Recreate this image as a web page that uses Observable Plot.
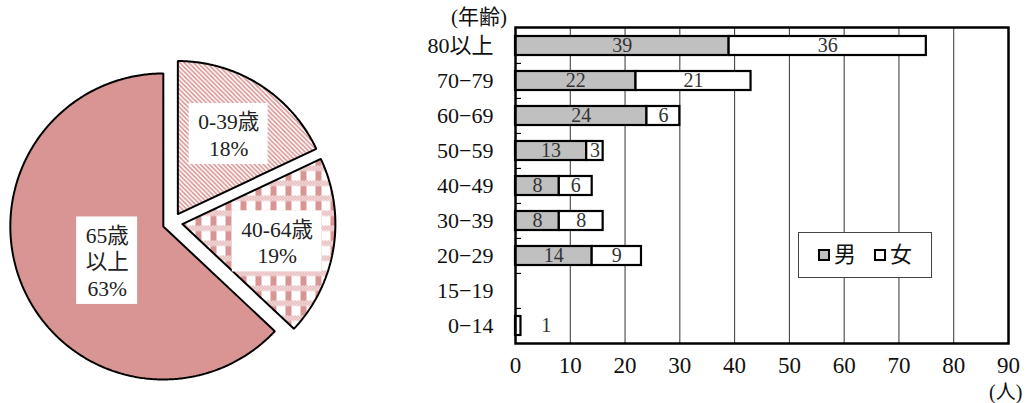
<!DOCTYPE html>
<html><head><meta charset="utf-8">
<script src="https://cdn.jsdelivr.net/npm/d3@7"></script>
<script src="https://cdn.jsdelivr.net/npm/@observablehq/plot@0.6"></script>
<style>
body{margin:0;background:#fff;}
#wrap{position:relative;width:1030px;height:403px;overflow:hidden;font-family:"Liberation Serif","Noto Sans CJK JP",serif;color:#111;}
.abs{position:absolute;white-space:nowrap;line-height:1;}
</style></head><body><div id="wrap"></div>
<script>
// ---- Pie data ----
const pieCategories = ["0-39歳", "40-64歳", "65歳以上"];
const piePercents = [18, 19, 63];
const pieLabelLines = [["0-39歳", "18%"], ["40-64歳", "19%"], ["65歳", "以上", "63%"]];
const pieFills = ["url(#stripe)", "url(#gingham)", "#d99594"];

// ---- Bar data ----
const ageGroups = ["80以上", "70−79", "60−69", "50−59", "40−49", "30−39", "20−29", "15−19", "0−14"];
const maleCounts = [39, 22, 24, 13, 8, 8, 14, 0, 0];
const femaleCounts = [36, 21, 6, 3, 6, 8, 9, 0, 1];
const sexes = ["男", "女"];
const sexFills = ["#c0c0c0", "#ffffff"];
const xTicks = [0, 10, 20, 30, 40, 50, 60, 70, 80, 90];

const FONT = `"Liberation Serif","Noto Sans CJK JP",serif`;
const wrap = document.getElementById("wrap");

// ================= PIE =================
const PW = 400, PH = 403;
const C = [172, 222], R = 153, EXPLODE = 10;
const labelRadius = [0.62, 0.63, 0.43];
const labelAngleFrac = [0.5, 0.52, 0.465];
const PFS = 21.5, LH = 26.5;

const arcs = d3.pie().sort(null).value(d => d)(piePercents);
const slicePts = [];
const labels = [];
arcs.forEach((a, i) => {
  const mid = (a.startAngle + a.endAngle) / 2;
  const ax = C[0] + EXPLODE * Math.sin(mid), ay = C[1] - EXPLODE * Math.cos(mid);
  const pts = [{x: ax, y: ay}];
  const n = Math.max(8, Math.ceil((a.endAngle - a.startAngle) / 0.01));
  for (let k = 0; k <= n; k++) {
    const t = a.startAngle + (a.endAngle - a.startAngle) * k / n;
    pts.push({x: ax + R * Math.sin(t), y: ay - R * Math.cos(t)});
  }
  pts.push({x: ax, y: ay});
  slicePts.push(pts);
  const la = a.startAngle + (a.endAngle - a.startAngle) * labelAngleFrac[i];
  labels.push({
    x: ax + R * labelRadius[i] * Math.sin(la),
    y: ay - R * labelRadius[i] * Math.cos(la),
    text: pieLabelLines[i].join("\n"),
    lines: pieLabelLines[i]
  });
});
const cv = document.createElement("canvas").getContext("2d");
cv.font = `${PFS}px ${FONT}`;
const boxes = labels.map(l => {
  const w = Math.max(...l.lines.map(s => cv.measureText(s).width)) + 18;
  const h = l.lines.length * LH + 8;
  return {x1: l.x - w / 2, x2: l.x + w / 2, y1: l.y - h / 2, y2: l.y + h / 2};
});

const pie = Plot.plot({
  width: PW, height: PH, margin: 0,
  x: {domain: [0, PW], range: [0, PW], axis: null},
  y: {domain: [0, PH], range: [0, PH], axis: null},
  style: {fontFamily: FONT, background: "transparent"},
  marks: [
    ...slicePts.map((pts, i) => Plot.line(pts, {x: "x", y: "y", fill: pieFills[i], stroke: "#000", strokeWidth: 2, strokeLinejoin: "miter"})),
    Plot.rect(boxes, {x1: "x1", x2: "x2", y1: "y1", y2: "y2", fill: "#fff"}),
    Plot.text(labels, {x: "x", y: "y", text: "text", fontSize: PFS, lineHeight: LH / PFS, fill: "#222"})
  ]
});
const defs = d3.select(pie).insert("defs", ":first-child");
const pink = "#d99594";
const st = defs.append("pattern").attr("id", "stripe").attr("patternUnits", "userSpaceOnUse").attr("width", 4.5).attr("height", 4.5);
st.append("rect").attr("width", 4.5).attr("height", 4.5).attr("fill", "#fff");
st.append("path").attr("d", "M0,0L4.5,4.5M-1,3.5L1,5.5M3.5,-1L5.5,1").attr("stroke", pink).attr("stroke-width", 1.6);
const fine = defs.append("pattern").attr("id", "fine").attr("patternUnits", "userSpaceOnUse").attr("width", 3).attr("height", 3);
fine.append("rect").attr("width", 3).attr("height", 3).attr("fill", "#fff");
fine.append("rect").attr("width", 1.5).attr("height", 1.5).attr("fill", pink);
fine.append("rect").attr("x", 1.5).attr("y", 1.5).attr("width", 1.5).attr("height", 1.5).attr("fill", pink);
const gg = defs.append("pattern").attr("id", "gingham").attr("patternUnits", "userSpaceOnUse").attr("width", 15).attr("height", 15);
gg.append("rect").attr("width", 15).attr("height", 15).attr("fill", "#fff");
gg.append("rect").attr("width", 15).attr("height", 5.5).attr("fill", "url(#fine)");
gg.append("rect").attr("y", 5.5).attr("width", 6).attr("height", 9.5).attr("fill", pink);
pie.style.position = "absolute"; pie.style.left = "0px"; pie.style.top = "0px";
wrap.appendChild(pie);

// ================= BARS =================
const rows = [];
ageGroups.forEach((g, i) => {
  let acc = 0;
  [maleCounts[i], femaleCounts[i]].forEach((v, j) => {
    if (v > 0) {
      rows.push({age: g, sex: sexes[j], value: v, x1: acc, x2: acc + v,
        lx: v < 2 ? acc + v + 4.6 : acc + v / 2, fill: sexFills[j]});
    }
    acc += v;
  });
});
const BW = 630, BH = 403;
const mT = 27, mB = 60, mL = 115, mR = 22;
const step = (BH - mT - mB) / ageGroups.length;

const bars = Plot.plot({
  width: BW, height: BH,
  marginTop: mT, marginBottom: mB, marginLeft: mL, marginRight: mR,
  style: {fontFamily: FONT, fontSize: "22px", color: "#111", background: "transparent"},
  x: {domain: [0, 90], label: null},
  y: {domain: ageGroups, paddingInner: 0.46, paddingOuter: 0.23, label: null},
  color: {type: "identity"},
  marks: [
    Plot.ruleX(xTicks.slice(1, -1), {stroke: "#333", strokeWidth: 1}),
    Plot.ruleY(ageGroups.slice(1), {y: d => d, x1: 0, x2: 1.1, dy: -step / 2, stroke: "#000", strokeWidth: 1.2}),
    Plot.rect(rows, {x1: "x1", x2: "x2", y: "age", fill: "fill", stroke: "#000", strokeWidth: 2.2}),
    Plot.text(rows, {x: "lx", y: "age", text: d => String(d.value), fontSize: 20, fill: "#333"}),
    Plot.frame({stroke: "#000", strokeWidth: 2.5}),
    Plot.axisX({ticks: xTicks, tickSize: 0, tickPadding: 13, fontSize: 23, label: null}),
    Plot.axisY({tickSize: 0, tickPadding: 22, fontSize: 22, label: null})
  ]
});
bars.style.position = "absolute"; bars.style.left = "400px"; bars.style.top = "0px";
wrap.appendChild(bars);

// ---- extra texts & legend ----
function addText(t, left, top, size) {
  const d = document.createElement("div");
  d.className = "abs"; d.textContent = t;
  d.style.left = left + "px"; d.style.top = top + "px"; d.style.fontSize = size + "px";
  wrap.appendChild(d); return d;
}
addText("(年齢)", 451, 7, 21);
addText("(人)", 989, 382, 20);
const lg = document.createElement("div");
lg.className = "abs";
Object.assign(lg.style, {left: "798px", top: "232px", width: "132px", height: "44px", border: "1px solid #444", background: "#fff",
  display: "flex", alignItems: "center", justifyContent: "center", gap: "18px", fontSize: "22px"});
sexes.forEach((s, j) => {
  const it = document.createElement("span");
  it.style.display = "flex"; it.style.alignItems = "center"; it.style.gap = "4px";
  const sw = document.createElement("span");
  Object.assign(sw.style, {display: "inline-block", width: "8px", height: "8px", border: "2.5px solid #000", background: sexFills[j]});
  const tx = document.createElement("span"); tx.textContent = s;
  it.appendChild(sw); it.appendChild(tx); lg.appendChild(it);
});
wrap.appendChild(lg);
</script></body></html>
